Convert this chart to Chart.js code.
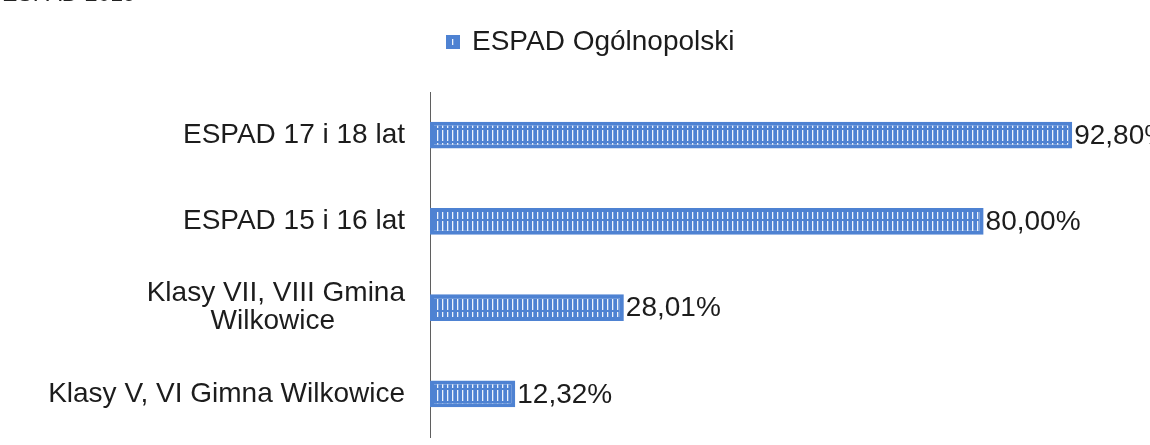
<!DOCTYPE html>
<html>
<head>
<meta charset="utf-8">
<script src="https://cdn.jsdelivr.net/npm/chart.js@4.4.1/dist/chart.umd.min.js"></script>
<style>
  html, body { margin: 0; padding: 0; background: #fff; overflow: hidden; }
  #wrap { position: relative; width: 1150px; height: 445px; overflow: hidden; }
  #chart { position: absolute; left: 0; top: 0; }
  #cut { position: absolute; left: 2px; top: -20px; font: 23px/26px "Liberation Sans", Arial, sans-serif; color: #222; z-index: 2; white-space: nowrap; }
</style>
</head>
<body>
<div id="wrap">
  <canvas id="chart" width="1150" height="445"></canvas>
  <div id="cut">ESPAD 2019</div>
</div>
<script>
// ---- data ----
const categories = [
  'ESPAD 17 i 18 lat',
  'ESPAD 15 i 16 lat',
  ['Klasy VII, VIII Gmina', 'Wilkowice'],
  'Klasy V, VI Gimna Wilkowice'
];
const seriesName = 'ESPAD Ogólnopolski';
const values = [92.80, 80.00, 28.01, 12.32];

// ---- styling ----
const FONT = '"Liberation Sans", Arial, sans-serif';
const FS = 28;
const BLUE = '#4e82d2';
const TEXT = '#1c1c1c';

function stripePattern() {
  const c = document.createElement('canvas');
  c.width = 5; c.height = 13;
  const g = c.getContext('2d');
  g.fillStyle = BLUE; g.fillRect(0, 0, 5, 13);
  g.fillStyle = 'rgba(255,255,255,0.9)';
  g.fillRect(2, 0, 1.3, 11);
  return g.createPattern(c, 'repeat');
}

const measure = document.createElement('canvas').getContext('2d');
measure.font = FS + 'px ' + FONT;
function centerLines(lbl) {
  if (!Array.isArray(lbl)) return lbl;
  const widths = lbl.map(l => measure.measureText(l).width);
  const maxW = Math.max(...widths);
  const sp = measure.measureText('\u00a0').width;
  return lbl.map((l, i) => l + '\u00a0'.repeat(Math.round((maxW - widths[i]) / 2 / sp)));
}

const valueLabels = {
  id: 'valueLabels',
  afterDatasetsDraw(chart) {
    const ctx = chart.ctx;
    const meta = chart.getDatasetMeta(0);
    ctx.save();
    ctx.font = FS + 'px ' + FONT;
    ctx.fillStyle = TEXT;
    ctx.textAlign = 'left';
    ctx.textBaseline = 'middle';
    meta.data.forEach((bar, i) => {
      const v = chart.data.datasets[0].data[i];
      ctx.fillText(v.toFixed(2).replace('.', ',') + '%', bar.x + 2, bar.y + 1);
    });
    ctx.restore();
  }
};

const legendPlace = {
  id: 'legendPlace',
  afterLayout(chart) {
    const lg = chart.legend;
    if (!lg) return;
    lg.left = 420;
    lg.top = 0;
  }
};

new Chart(document.getElementById('chart'), {
  type: 'bar',
  data: {
    labels: categories,
    datasets: [{
      label: seriesName,
      data: values,
      backgroundColor: stripePattern(),
      borderColor: BLUE,
      borderWidth: 4,
      borderSkipped: false,
      categoryPercentage: 1,
      barPercentage: 0.31
    }]
  },
  options: {
    indexAxis: 'y',
    responsive: false,
    animation: false,
    layout: { padding: { top: 26, right: 28, bottom: 8, left: 0 } },
    plugins: {
      tooltip: { enabled: false },
      legend: {
        display: true,
        position: 'top',
        align: 'start',
        labels: {
          boxWidth: 10,
          boxHeight: 10,
          padding: 28,
          color: TEXT,
          font: { family: FONT, size: FS }
        }
      }
    },
    scales: {
      x: { display: false, min: 0, max: 100 },
      y: {
        afterFit(scale) {
          scale.width = 430;
          scale.paddingTop = 0;
          scale.paddingBottom = 0;
        },
        grid: { display: false, drawTicks: false },
        border: { display: true, color: '#5f5f5f', width: 1 },
        ticks: {
          padding: 25,
          color: TEXT,
          font: { family: FONT, size: FS, lineHeight: 1.0 },
          callback(value) { return centerLines(this.getLabelForValue(value)); }
        }
      }
    }
  },
  plugins: [valueLabels, legendPlace]
});
</script>
</body>
</html>
